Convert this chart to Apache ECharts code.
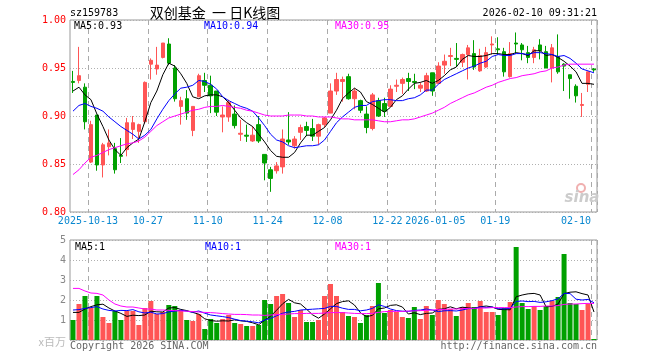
<!DOCTYPE html>
<html><head><meta charset="utf-8">
<script src="https://cdn.jsdelivr.net/npm/echarts@6/dist/echarts.min.js"></script>
<style>html,body{margin:0;padding:0;background:#fff}#c{width:660px;height:360px}</style>
</head><body><div id="c"></div>
<script>
const dates = [
'2025-09-30','2025-10-09','2025-10-10','2025-10-13','2025-10-14','2025-10-15','2025-10-16','2025-10-17','2025-10-20','2025-10-21',
'2025-10-22','2025-10-23','2025-10-24','2025-10-27','2025-10-28','2025-10-29','2025-10-30','2025-10-31','2025-11-03','2025-11-04',
'2025-11-05','2025-11-06','2025-11-07','2025-11-10','2025-11-11','2025-11-12','2025-11-13','2025-11-14','2025-11-17','2025-11-18',
'2025-11-19','2025-11-20','2025-11-21','2025-11-24','2025-11-25','2025-11-26','2025-11-27','2025-11-28','2025-12-01','2025-12-02',
'2025-12-03','2025-12-04','2025-12-05','2025-12-08','2025-12-09','2025-12-10','2025-12-11','2025-12-12','2025-12-15','2025-12-16',
'2025-12-17','2025-12-18','2025-12-19','2025-12-22','2025-12-23','2025-12-24','2025-12-25','2025-12-26','2025-12-29','2025-12-30',
'2025-12-31','2026-01-05','2026-01-06','2026-01-07','2026-01-08','2026-01-09','2026-01-12','2026-01-13','2026-01-14','2026-01-15',
'2026-01-16','2026-01-19','2026-01-20','2026-01-21','2026-01-22','2026-01-23','2026-01-26','2026-01-27','2026-01-28','2026-01-29',
'2026-01-30','2026-02-02','2026-02-03','2026-02-04','2026-02-05','2026-02-06','2026-02-09','2026-02-10'];
const tickDates = ['2025-10-13','2025-10-27','2025-11-10','2025-11-24','2025-12-08','2025-12-22','2026-01-05','2026-01-19','2026-02-10'];
const tickLabels = ['2025-10-13','10-27','11-10','11-24','12-08','12-22','2026-01-05','01-19','02-10'];

const opens = [0.936,0.937,0.930,0.852,0.901,0.849,0.868,0.866,0.859,0.865,
0.886,0.884,0.894,0.954,0.949,0.961,0.975,0.950,0.910,0.918,
0.885,0.920,0.937,0.932,0.926,0.899,0.899,0.902,0.881,0.880,
0.874,0.891,0.860,0.844,0.843,0.847,0.875,0.869,0.883,0.889,
0.887,0.879,0.891,0.903,0.926,0.936,0.941,0.918,0.916,0.902,
0.887,0.916,0.913,0.910,0.931,0.934,0.939,0.936,0.929,0.926,
0.945,0.934,0.953,0.962,0.960,0.956,0.964,0.965,0.947,0.951,
0.974,0.970,0.967,0.941,0.976,0.974,0.966,0.961,0.974,0.967,
0.950,0.962,0.954,0.943,0.931,0.911,0.933,0.949];
const closes = [0.935,0.942,0.894,0.891,0.849,0.870,0.872,0.844,0.858,0.893,
0.893,0.891,0.935,0.958,0.953,0.976,0.955,0.918,0.916,0.903,
0.910,0.942,0.932,0.921,0.904,0.901,0.914,0.890,0.882,0.879,
0.880,0.874,0.851,0.835,0.848,0.876,0.873,0.876,0.888,0.885,
0.879,0.891,0.898,0.926,0.938,0.938,0.918,0.926,0.906,0.888,
0.922,0.900,0.905,0.928,0.932,0.938,0.936,0.935,0.932,0.942,
0.926,0.952,0.957,0.963,0.959,0.964,0.971,0.951,0.963,0.966,
0.975,0.969,0.946,0.965,0.975,0.969,0.961,0.969,0.968,0.950,
0.971,0.946,0.952,0.939,0.921,0.912,0.946,0.948];
const lows = [0.924,0.934,0.886,0.851,0.843,0.836,0.859,0.840,0.851,0.858,
0.876,0.872,0.892,0.938,0.943,0.960,0.953,0.915,0.891,0.896,
0.879,0.920,0.925,0.903,0.900,0.883,0.894,0.887,0.874,0.873,
0.873,0.872,0.833,0.821,0.840,0.840,0.870,0.866,0.875,0.879,
0.874,0.870,0.888,0.903,0.922,0.915,0.917,0.907,0.903,0.882,
0.885,0.899,0.899,0.910,0.925,0.923,0.926,0.928,0.925,0.925,
0.921,0.934,0.944,0.952,0.951,0.951,0.938,0.948,0.946,0.950,
0.964,0.964,0.941,0.940,0.965,0.958,0.955,0.955,0.959,0.950,
0.935,0.944,0.926,0.918,0.914,0.899,0.925,0.946];
const highs = [0.947,0.972,0.934,0.895,0.901,0.872,0.886,0.872,0.877,0.898,
0.900,0.892,0.936,0.960,0.972,0.976,0.981,0.953,0.920,0.927,
0.910,0.944,0.945,0.942,0.926,0.910,0.917,0.911,0.896,0.891,
0.889,0.900,0.860,0.847,0.852,0.886,0.904,0.879,0.891,0.894,
0.897,0.892,0.899,0.934,0.945,0.941,0.944,0.929,0.917,0.910,
0.924,0.919,0.919,0.932,0.938,0.940,0.945,0.944,0.935,0.945,
0.945,0.956,0.964,0.971,0.976,0.965,0.974,0.979,0.970,0.972,
0.983,0.982,0.971,0.977,0.987,0.976,0.973,0.972,0.980,0.973,
0.975,0.985,0.955,0.943,0.933,0.924,0.946,0.950];

const ma5 = [0.926,0.930,0.922,0.917,0.902,0.889,0.875,0.865,0.859,0.867,
0.872,0.876,0.894,0.914,0.926,0.943,0.955,0.952,0.944,0.934,
0.920,0.918,0.921,0.922,0.922,0.920,0.914,0.906,0.898,0.893,
0.889,0.881,0.873,0.864,0.858,0.857,0.857,0.862,0.872,0.880,
0.880,0.884,0.888,0.896,0.906,0.918,0.924,0.929,0.925,0.915,
0.912,0.908,0.904,0.909,0.917,0.921,0.928,0.934,0.935,0.937,
0.934,0.937,0.942,0.948,0.951,0.959,0.963,0.962,0.962,0.963,
0.965,0.965,0.964,0.964,0.966,0.965,0.963,0.968,0.968,0.963,
0.964,0.961,0.957,0.952,0.946,0.934,0.934,0.933];
const ma10 = [0.905,0.911,0.913,0.910,0.908,0.905,0.899,0.894,0.889,0.885,
0.881,0.876,0.880,0.886,0.897,0.907,0.916,0.923,0.929,0.930,
0.932,0.937,0.936,0.933,0.928,0.920,0.916,0.913,0.910,0.908,
0.905,0.898,0.890,0.881,0.875,0.873,0.869,0.867,0.868,0.869,
0.869,0.870,0.875,0.884,0.893,0.899,0.904,0.909,0.911,0.911,
0.915,0.916,0.917,0.917,0.916,0.916,0.918,0.919,0.922,0.927,
0.927,0.933,0.938,0.941,0.944,0.947,0.950,0.952,0.955,0.957,
0.962,0.964,0.963,0.963,0.965,0.965,0.964,0.966,0.966,0.965,
0.964,0.962,0.963,0.960,0.955,0.949,0.947,0.945];
const ma30 = [0.839,0.844,0.851,0.857,0.859,0.862,0.865,0.867,0.869,0.871,
0.872,0.874,0.878,0.884,0.890,0.894,0.898,0.900,0.902,0.904,
0.906,0.907,0.909,0.910,0.910,0.911,0.910,0.909,0.908,0.906,
0.905,0.903,0.901,0.900,0.900,0.900,0.901,0.901,0.901,0.900,
0.900,0.899,0.899,0.899,0.898,0.897,0.897,0.896,0.896,0.896,
0.896,0.895,0.894,0.894,0.895,0.896,0.896,0.897,0.899,0.901,
0.903,0.906,0.909,0.913,0.916,0.919,0.922,0.924,0.927,0.930,
0.932,0.935,0.937,0.939,0.940,0.942,0.943,0.944,0.946,0.947,
0.950,0.951,0.953,0.954,0.954,0.954,0.954,0.954];

const volumes = [1.0,1.8,2.2,1.6,2.2,1.15,0.85,1.45,1.0,1.45,
1.45,0.75,1.6,1.95,1.3,1.4,1.75,1.7,1.5,1.0,
0.95,1.3,0.55,1.05,0.85,1.05,1.25,0.85,0.8,0.7,
0.7,0.75,2.0,1.8,2.2,2.3,1.85,1.15,1.5,0.9,
0.9,1.0,2.2,2.8,2.2,1.4,1.2,1.15,0.85,1.25,
1.7,2.85,1.35,1.5,1.4,1.15,1.1,1.65,1.05,1.7,
1.25,2.0,1.8,1.55,1.2,1.65,1.85,1.65,1.95,1.4,
1.4,1.25,1.6,1.9,4.65,1.85,1.55,1.7,1.5,1.7,
1.95,2.15,4.3,1.85,1.8,1.5,1.8,0.05];
const volMa5 = [1.38,1.38,1.55,1.67,1.76,1.79,1.60,1.45,1.33,1.18,
1.24,1.22,1.25,1.44,1.41,1.40,1.60,1.62,1.53,1.47,
1.38,1.29,1.06,0.97,0.94,0.96,0.95,1.01,0.96,0.93,
0.86,0.76,0.99,1.19,1.49,1.81,2.03,1.86,1.80,1.54,
1.26,1.09,1.30,1.56,1.82,1.92,1.96,1.75,1.36,1.17,
1.23,1.56,1.60,1.73,1.76,1.65,1.30,1.36,1.27,1.33,
1.35,1.53,1.56,1.66,1.56,1.64,1.61,1.58,1.66,1.70,
1.65,1.53,1.52,1.51,2.16,2.25,2.31,2.33,2.25,1.66,
1.68,1.80,2.32,2.39,2.41,2.32,2.25,1.40];
const volMa10 = [1.50,1.52,1.58,1.62,1.67,1.55,1.48,1.45,1.48,1.47,
1.52,1.41,1.35,1.39,1.30,1.32,1.41,1.44,1.49,1.44,
1.39,1.45,1.34,1.25,1.21,1.17,1.12,1.04,0.97,0.94,
0.91,0.86,1.00,1.08,1.21,1.34,1.40,1.43,1.50,1.52,
1.54,1.56,1.58,1.68,1.68,1.59,1.53,1.53,1.46,1.50,
1.58,1.76,1.68,1.55,1.47,1.44,1.43,1.48,1.50,1.55,
1.50,1.42,1.46,1.47,1.45,1.50,1.57,1.57,1.66,1.63,
1.65,1.57,1.55,1.59,1.93,1.95,1.92,1.93,1.88,1.91,
1.97,2.06,2.33,2.32,2.04,2.00,2.03,1.86];
const volMa30 = [2.58,2.58,2.45,2.35,2.33,2.25,2.00,1.80,1.70,1.65,
1.65,1.60,1.55,1.55,1.50,1.50,1.48,1.47,1.45,1.44,
1.42,1.40,1.38,1.37,1.35,1.32,1.30,1.28,1.28,1.27,
1.25,1.25,1.23,1.25,1.27,1.28,1.30,1.32,1.32,1.33,
1.33,1.33,1.35,1.37,1.37,1.37,1.35,1.33,1.32,1.32,
1.33,1.38,1.42,1.43,1.43,1.43,1.45,1.45,1.47,1.48,
1.50,1.52,1.53,1.55,1.55,1.57,1.58,1.58,1.60,1.60,
1.62,1.62,1.62,1.62,1.65,1.67,1.67,1.68,1.68,1.70,
1.70,1.72,1.78,1.80,1.80,1.82,1.83,1.83];

const RED = '#ff5555', GREEN = '#00a000';
const MONO = '"DejaVu Sans Mono", monospace';
const n = dates.length;
const isTick = (i) => tickDates.indexOf(dates[i]) >= 0;
const trunc = (v, d) => (Math.floor(v * Math.pow(10, d) + 1e-9) / Math.pow(10, d)).toFixed(d);

const chart = echarts.init(document.getElementById('c'), null, {renderer: 'canvas'});
const splitX = {show: true, interval: (i) => isTick(i), lineStyle: {color: '#aaaaaa', width: 1, type: [5, 4]}};
const option = {
  animation: false,
  backgroundColor: '#ffffff',
  grid: [
    {left: 70, top: 20, width: 527, height: 192, show: true, borderColor: '#999999', borderWidth: 1, backgroundColor: 'transparent'},
    {left: 70, top: 240, width: 527, height: 100, show: true, borderColor: '#999999', borderWidth: 1, backgroundColor: 'transparent'}
  ],
  xAxis: [
    {type: 'category', gridIndex: 0, data: dates, boundaryGap: true,
     axisLine: {show: false}, axisTick: {show: false},
     axisLabel: {interval: (i) => isTick(i), margin: 4, color: '#0a88d0', fontFamily: MONO, fontSize: 10,
       formatter: (v) => { const k = tickDates.indexOf(v); if (k < 0) return ''; return k === tickDates.length - 1 ? '{e|' + tickLabels[k] + '}' : '{m|' + tickLabels[k] + '}'; },
       rich: {m: {padding: [0, 6, 0, 0], color: '#0a88d0', fontFamily: MONO, fontSize: 10},
              e: {padding: [0, 36, 0, 0], color: '#0a88d0', fontFamily: MONO, fontSize: 10}}},
     splitLine: splitX},
    {type: 'category', gridIndex: 1, data: dates, boundaryGap: true,
     axisLine: {show: false}, axisTick: {show: false}, axisLabel: {show: false},
     splitLine: splitX}
  ],
  yAxis: [
    {type: 'value', gridIndex: 0, min: 0.8, max: 1.0, interval: 0.05,
     axisLine: {show: false}, axisTick: {show: false},
     axisLabel: {margin: 4, color: '#ff0000', fontFamily: MONO, fontSize: 10, formatter: (v) => v.toFixed(2)},
     splitLine: {show: true, lineStyle: {color: '#b0b0b0', width: 1, type: [1, 2]}}},
    {type: 'value', gridIndex: 1, min: 0, max: 5, interval: 1,
     axisLine: {show: false}, axisTick: {show: false},
     axisLabel: {margin: 4, color: '#888888', fontFamily: MONO, fontSize: 10,
       formatter: (v) => v === 0 ? '{u|x百万}' : String(v),
       rich: {u: {color: '#bbbbbb', fontSize: 11, fontFamily: '"Noto Sans CJK SC", sans-serif', padding: [4, 0, 0, 0]}}},
     splitLine: {show: true, lineStyle: {color: '#b0b0b0', width: 1, type: [1, 2]}}}
  ],
  series: [
    {type: 'candlestick', name: 'K', xAxisIndex: 0, yAxisIndex: 0, barWidth: 4,
     data: dates.map((d, i) => [opens[i], closes[i], lows[i], highs[i]]),
     itemStyle: {color: RED, color0: GREEN, borderColor: RED, borderColor0: GREEN, borderWidth: 1}},
    {type: 'line', name: 'MA5', xAxisIndex: 0, yAxisIndex: 0, data: ma5, showSymbol: false, symbol: 'none', lineStyle: {color: '#000000', width: 1}, z: 3},
    {type: 'line', name: 'MA10', xAxisIndex: 0, yAxisIndex: 0, data: ma10, showSymbol: false, symbol: 'none', lineStyle: {color: '#0000ff', width: 1}, z: 3},
    {type: 'line', name: 'MA30', xAxisIndex: 0, yAxisIndex: 0, data: ma30, showSymbol: false, symbol: 'none', lineStyle: {color: '#ff00ff', width: 1}, z: 3},
    {type: 'bar', name: 'VOL', xAxisIndex: 1, yAxisIndex: 1, barWidth: 5,
     data: volumes.map((v, i) => ({value: v, itemStyle: {color: closes[i] >= opens[i] ? RED : GREEN}}))},
    {type: 'line', name: 'VMA5', xAxisIndex: 1, yAxisIndex: 1, data: volMa5, showSymbol: false, symbol: 'none', lineStyle: {color: '#000000', width: 1}, z: 3},
    {type: 'line', name: 'VMA10', xAxisIndex: 1, yAxisIndex: 1, data: volMa10, showSymbol: false, symbol: 'none', lineStyle: {color: '#0000ff', width: 1}, z: 3},
    {type: 'line', name: 'VMA30', xAxisIndex: 1, yAxisIndex: 1, data: volMa30, showSymbol: false, symbol: 'none', lineStyle: {color: '#ff00ff', width: 1}, z: 3}
  ],
  graphic: [
    {type: 'text', x: 70, y: 13, style: {text: 'sz159783', font: '10px ' + MONO, fill: '#000', textVerticalAlign: 'middle'}},
    {type: 'text', x: 215, y: 13, style: {text: '双创基金  一 日K线图', font: '14px "Noto Sans CJK SC", sans-serif', fill: '#000', textAlign: 'center', textVerticalAlign: 'middle'}},
    {type: 'text', x: 597, y: 13, style: {text: '2026-02-10 09:31:21', font: '10px ' + MONO, fill: '#000', textAlign: 'right', textVerticalAlign: 'middle'}},
    {type: 'text', x: 74, y: 26, z: 10, style: {text: 'MA5:' + trunc(ma5[n - 1], 2), font: '10px ' + MONO, fill: '#000', textVerticalAlign: 'middle'}},
    {type: 'text', x: 204, y: 26, z: 10, style: {text: 'MA10:' + trunc(ma10[n - 1], 2), font: '10px ' + MONO, fill: '#0000ff', textVerticalAlign: 'middle'}},
    {type: 'text', x: 335, y: 26, z: 10, style: {text: 'MA30:' + trunc(ma30[n - 1], 2), font: '10px ' + MONO, fill: '#ff00ff', textVerticalAlign: 'middle'}},
    {type: 'text', x: 75, y: 247, z: 10, style: {text: 'MA5:' + trunc(volMa5[n - 1], 0), font: '10px ' + MONO, fill: '#000', textVerticalAlign: 'middle'}},
    {type: 'text', x: 205, y: 247, z: 10, style: {text: 'MA10:' + trunc(volMa10[n - 1], 0), font: '10px ' + MONO, fill: '#0000ff', textVerticalAlign: 'middle'}},
    {type: 'text', x: 335, y: 247, z: 10, style: {text: 'MA30:' + trunc(volMa30[n - 1], 0), font: '10px ' + MONO, fill: '#ff00ff', textVerticalAlign: 'middle'}},
    {type: 'text', x: 70, y: 346, style: {text: 'Copyright 2026 SINA.COM', font: '10px ' + MONO, fill: '#666', textVerticalAlign: 'middle'}},
    {type: 'text', x: 597, y: 346, style: {text: 'http://finance.sina.com.cn', font: '10px ' + MONO, fill: '#666', textAlign: 'right', textVerticalAlign: 'middle'}},
    {type: 'circle', shape: {cx: 581, cy: 188, r: 4}, style: {fill: 'none', stroke: '#f0b0b0', lineWidth: 2}, z: 1},
    {type: 'text', x: 582, y: 198, z: 1, style: {text: 'sina', font: 'italic bold 15px "DejaVu Sans", sans-serif', fill: '#cccccc', textAlign: 'center', textVerticalAlign: 'middle'}}
  ]
};
chart.setOption(option);
</script></body></html>
